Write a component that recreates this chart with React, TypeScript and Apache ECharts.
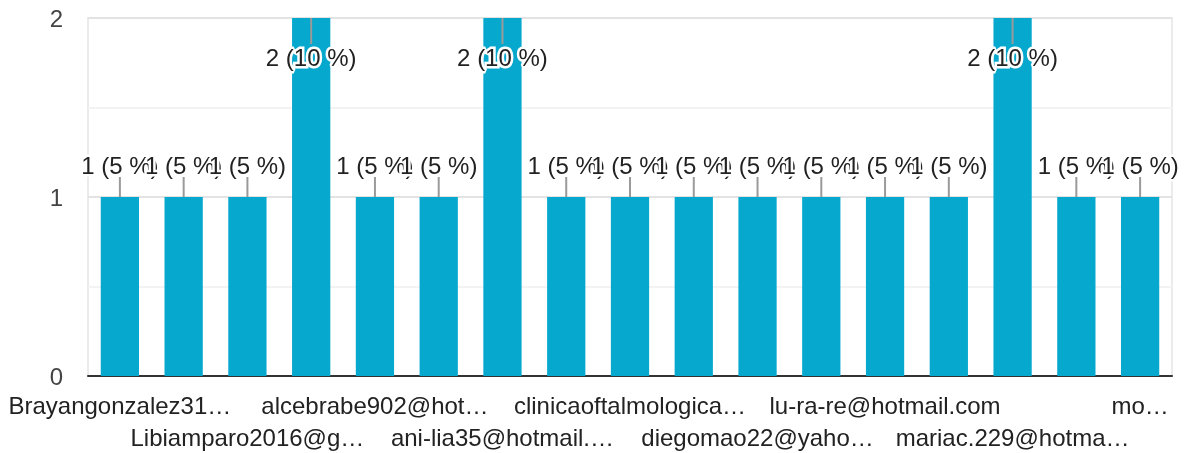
import React, { useEffect, useRef } from "react";
import * as echarts from "echarts";

const categories: string[] = [
  "Brayangonzalez31…",
  "(correo 2)",
  "Libiamparo2016@g…",
  "(correo 4)",
  "alcebrabe902@hot…",
  "(correo 6)",
  "ani-lia35@hotmail.…",
  "(correo 8)",
  "clinicaoftalmologica…",
  "(correo 10)",
  "diegomao22@yaho…",
  "(correo 12)",
  "lu-ra-re@hotmail.com",
  "(correo 14)",
  "mariac.229@hotma…",
  "(correo 16)",
  "mo…",
];

const counts: number[] = [1, 1, 1, 2, 1, 1, 2, 1, 1, 1, 1, 1, 1, 1, 2, 1, 1];

const yTicks: number[] = [0, 1, 2];

const FONT = 'Arial, "Liberation Sans", sans-serif';
const FS = 24;

export default function App() {
  const ref = useRef<HTMLDivElement>(null);
  useEffect(() => {
    if (!ref.current) return;
    const chart = echarts.init(ref.current, undefined, { renderer: "svg" });
    const total = counts.reduce((a, b) => a + b, 0);
    const labelData = counts.map((v, i) => [i, v]);
    const labelBase = {
      color: "#222222",
      fontSize: FS,
      fontFamily: FONT,
      showMinLabel: true,
      showMaxLabel: true,
      hideOverlap: false,
    };
    chart.setOption({
      animation: false,
      grid: {
        left: 88,
        right: 12,
        top: 18,
        bottom: 77,
        show: true,
        borderColor: "#ebebeb",
        borderWidth: 2,
        backgroundColor: "transparent",
      },
      xAxis: [
        {
          type: "category",
          data: categories,
          position: "bottom",
          axisLine: { show: true, lineStyle: { color: "#333333", width: 2 } },
          axisTick: { show: false },
          splitLine: { show: false },
          axisLabel: {
            ...labelBase,
            margin: 17,
            interval: (index: number) => index % 4 === 0,
          },
        },
        {
          type: "category",
          data: categories,
          position: "bottom",
          axisLine: { show: false },
          axisTick: { show: false },
          splitLine: { show: false },
          axisLabel: {
            ...labelBase,
            margin: 49,
            interval: (index: number) => index % 4 === 2,
          },
        },
      ],
      yAxis: {
        type: "value",
        min: 0,
        max: 2,
        interval: 0.5,
        axisLine: { show: false },
        axisTick: { show: false },
        axisLabel: {
          margin: 25,
          color: "#444444",
          fontSize: FS,
          fontFamily: FONT,
          formatter: (v: number) => (yTicks.indexOf(v) >= 0 ? String(v) : ""),
        },
        splitLine: {
          show: true,
          lineStyle: { color: ["#e3e3e3", "#f3f3f3"], width: 2 },
        },
      },
      series: [
        {
          type: "bar",
          data: counts,
          barWidth: "60%",
          itemStyle: { color: "#06A8CE" },
        },
        {
          type: "custom",
          z: 10,
          data: labelData,
          encode: { x: 0, y: 1 },
          renderItem: (params: any, api: any) => {
            const i = api.value(0);
            const v = api.value(1);
            const pt = api.coord([i, v]);
            const x = pt[0];
            const y = pt[1];
            const gridTop = params.coordSys.y;
            const above = y - 34 > gridTop;
            const labelY = above ? y - 32 : y + 39;
            const lineEnd = above ? y - 20 : y + 26;
            const pct = Math.round((v / total) * 100);
            const text = `${v} (${pct} %)`;
            const base = {
              text,
              x,
              y: labelY,
              align: "center",
              verticalAlign: "middle",
              fontSize: FS,
              fontFamily: FONT,
            };
            return {
              type: "group",
              children: [
                {
                  type: "line",
                  shape: { x1: x, y1: y, x2: x, y2: lineEnd },
                  style: { stroke: "#9a9a9a", lineWidth: 2 },
                },
                {
                  type: "text",
                  silent: true,
                  style: {
                    ...base,
                    fill: "#ffffff",
                    stroke: "#ffffff",
                    lineWidth: 5,
                  },
                },
                {
                  type: "text",
                  style: { ...base, fill: "#222222" },
                },
              ],
            };
          },
        },
      ],
    });
    return () => chart.dispose();
  }, []);
  return (
    <div
      ref={ref}
      style={{ position: "fixed", left: 0, top: 0, width: 1184, height: 453 }}
    />
  );
}
